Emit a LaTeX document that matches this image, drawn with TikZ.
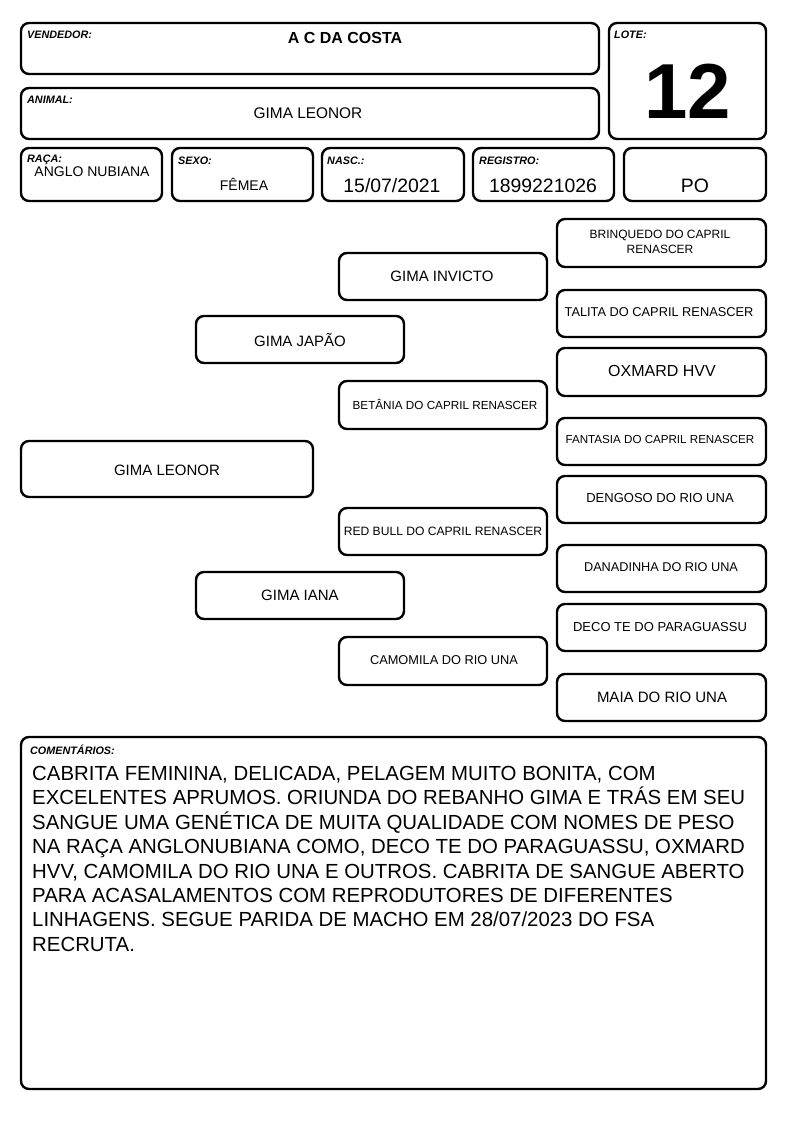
\documentclass[tikz,border=0pt]{standalone}
\usepackage{fontspec}
\setmainfont{Liberation Sans}
\begin{document}
\begin{tikzpicture}[x=1pt,y=-1pt,
  card/.style={draw=black,line width=2.4pt,rounded corners=8pt,fill=white,inner sep=0pt},
  lbl/.style={anchor=north west,inner sep=0pt,font=\fontsize{10.8}{12}\selectfont\bfseries\itshape},
  val/.style={inner sep=0pt,font=\fontsize{15}{18}\selectfont},
  big/.style={inner sep=0pt,font=\fontsize{19.4}{22}\selectfont},
  sml/.style={inner sep=0pt,align=center,font=\fontsize{12.5}{15}\selectfont},
  med/.style={inner sep=0pt,align=center,font=\fontsize{13}{15}\selectfont}]
\useasboundingbox (0,0) rectangle (794,1123);
\fill[white] (0,0) rectangle (794,1123);
% header boxes
\draw[card] (21,23) rectangle (599,74);
\node[lbl] (vendL) at (27,31) {VENDEDOR:};
\node[inner sep=0pt,font=\fontsize{16}{18}\selectfont\bfseries] (vend) at (345,38) {A C DA COSTA};
\draw[card] (21,88) rectangle (599,139);
\node[lbl] (animL) at (27,96) {ANIMAL:};
\node[val,font=\fontsize{15.4}{18}\selectfont] (anim) at (308,113) {GIMA LEONOR};
\draw[card] (609,23) rectangle (766,139);
\node[lbl] (loteL) at (614,31) {LOTE:};
\node[inner sep=0pt,font=\fontsize{78}{80}\selectfont\bfseries] (lote) at (688,91) {12};
\draw[card] (21,148) rectangle (162,201);
\node[lbl] (racaL) at (27,155) {RAÇA:};
\node[inner sep=0pt,font=\fontsize{14}{17}\selectfont] (raca) at (92,172) {ANGLO NUBIANA};
\draw[card] (172,148) rectangle (313,201);
\node[lbl] (sexoL) at (178,157) {SEXO:};
\node[inner sep=0pt,font=\fontsize{14}{17}\selectfont] (sexo) at (244,184) {FÊMEA};
\draw[card] (322,148) rectangle (464,201);
\node[lbl] (nascL) at (327,157) {NASC.:};
\node[big] (nasc) at (392,186) {15/07/2021};
\draw[card] (473,148) rectangle (614,201);
\node[lbl] (regL) at (479,157) {REGISTRO:};
\node[big] (reg) at (543,186) {1899221026};
\draw[card] (624,148) rectangle (766,201);
\node[big] (po) at (695,186) {PO};
% pedigree
\draw[card] (21,441) rectangle (313,497);
\node[val] (leonor) at (167,470) {GIMA LEONOR};
\draw[card] (196,316) rectangle (404,363);
\node[val] (japao) at (300,340) {GIMA JAPÃO};
\draw[card] (196,572) rectangle (404,619);
\node[val] (iana) at (300,595) {GIMA IANA};
\draw[card] (339,253) rectangle (547,300);
\node[val] (invicto) at (442,276) {GIMA INVICTO};
\draw[card] (339,381) rectangle (547,429);
\node[sml,font=\fontsize{11.7}{14}\selectfont] (betania) at (445,404) {BETÂNIA DO CAPRIL RENASCER};
\draw[card] (339,508) rectangle (547,555);
\node[sml,font=\fontsize{12.1}{14}\selectfont] (redbull) at (443,531) {RED BULL DO CAPRIL RENASCER};
\draw[card] (339,637) rectangle (547,685);
\node[sml,font=\fontsize{12.8}{15}\selectfont] (camomila) at (444,660) {CAMOMILA DO RIO UNA};
\draw[card] (557,219) rectangle (766,267);
\node[sml,font=\fontsize{12}{15}\selectfont] (brinquedo) at (660,241.5) {BRINQUEDO DO CAPRIL\\RENASCER};
\draw[card] (557,290) rectangle (766,337);
\node[sml,font=\fontsize{12.8}{15}\selectfont] (talita) at (659,312) {TALITA DO CAPRIL RENASCER};
\draw[card] (557,348) rectangle (766,396);
\node[val,font=\fontsize{16}{18}\selectfont] (oxmard) at (662,370.5) {OXMARD HVV};
\draw[card] (557,418) rectangle (766,465);
\node[sml,font=\fontsize{11.6}{14}\selectfont] (fantasia) at (660,440) {FANTASIA DO CAPRIL RENASCER};
\draw[card] (557,476) rectangle (766,523);
\node[med] (dengoso) at (660,498.5) {DENGOSO DO RIO UNA};
\draw[card] (557,545) rectangle (766,592);
\node[med,font=\fontsize{12.7}{15}\selectfont] (danadinha) at (661,567.5) {DANADINHA DO RIO UNA};
\draw[card] (557,604) rectangle (766,651);
\node[med] (deco) at (660,627) {DECO TE DO PARAGUASSU};
\draw[card] (557,674) rectangle (766,721);
\node[val] (maia) at (662,697.5) {MAIA DO RIO UNA};
% comments
\draw[card] (21,737) rectangle (766,1089);
\node[lbl] (comL) at (30,745) {COMENTÁRIOS:};
\node[anchor=north west,inner sep=0pt,align=left,font=\fontsize{20.4}{24.4}\selectfont] (com) at (32,766) {CABRITA FEMININA, DELICADA, PELAGEM MUITO BONITA, COM\\
EXCELENTES APRUMOS. ORIUNDA DO REBANHO GIMA E TRÁS EM SEU\\
SANGUE UMA GENÉTICA DE MUITA QUALIDADE COM NOMES DE PESO\\
NA RAÇA ANGLONUBIANA COMO, DECO TE DO PARAGUASSU, OXMARD\\
HVV, CAMOMILA DO RIO UNA E OUTROS. CABRITA DE SANGUE ABERTO\\
PARA ACASALAMENTOS COM REPRODUTORES DE DIFERENTES\\
LINHAGENS. SEGUE PARIDA DE MACHO EM 28/07/2023 DO FSA\\
RECRUTA.};
\end{tikzpicture}
\end{document}
